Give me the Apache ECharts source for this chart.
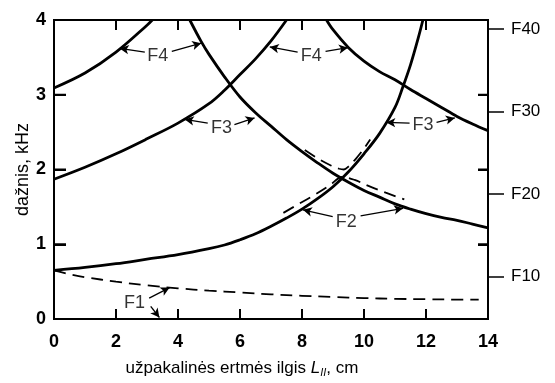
<!DOCTYPE html>
<html>
<head>
<meta charset="utf-8">
<script src="https://cdn.jsdelivr.net/npm/echarts@6/dist/echarts.min.js"></script>
<style>html,body{margin:0;padding:0;background:#fff}#c{width:555px;height:383px}</style>
</head>
<body>
<div id="c"></div>
<script>
// ---- data (x in cm, y in kHz) ----
var xTicks = [0, 2, 4, 6, 8, 10, 12, 14];
var yTicks = [0, 1, 2, 3, 4];
var rightTickValues = [10, 20, 30, 40];

var f1 = [[0,0.65],[0.5,0.60],[1,0.56],[2,0.50],[3,0.45],[4,0.41],[5,0.38],[6,0.355],[7,0.33],[8,0.31],[9,0.295],[10,0.28],[11,0.27],[12,0.265],[13,0.26],[13.7,0.26]];
var risingSteep = [[0,0.65],[1,0.69],[2,0.74],[3,0.80],[4,0.86],[5,0.94],[5.5,0.99],[6,1.06],[6.5,1.14],[7,1.24],[7.5,1.35],[8,1.47],[8.5,1.61],[9,1.77],[9.5,1.97],[10,2.21],[10.5,2.48],[11,2.83],[11.25,3.10],[11.5,3.40],[11.75,3.76],[11.9,4.0]];
var risingF3 = [[0,1.87],[1,2.03],[2,2.21],[3,2.41],[4,2.62],[5,2.88],[5.5,3.06],[6,3.27],[6.5,3.48],[7,3.72],[7.5,4.0]];
var risingF4 = [[0,3.09],[1,3.29],[2,3.57],[3,3.93],[3.17,4.0]];
var fallingA = [[4.38,4.0],[4.75,3.71],[5,3.54],[5.5,3.24],[6,2.97],[6.5,2.76],[7,2.58],[7.5,2.40],[8,2.24],[8.5,2.09],[9,1.95],[9.5,1.83],[10,1.72],[10.5,1.63],[11,1.54],[11.5,1.47],[12,1.41],[12.5,1.36],[13,1.32],[13.5,1.27],[14,1.22]];
var fallingB = [[8.79,4.0],[9,3.87],[9.5,3.63],[10,3.45],[10.5,3.31],[11,3.20],[11.5,3.07],[12,2.95],[12.5,2.83],[13,2.71],[13.5,2.61],[14,2.52]];
var f2DashUpper = [[8.09,2.26],[8.5,2.15],[8.9,2.06],[9.2,2.01],[9.35,2.0],[9.5,2.04],[9.75,2.15],[10,2.28],[10.2,2.4]];
var f2DashLower = [[7.4,1.42],[7.9,1.54],[8.4,1.66],[8.9,1.79],[9.3,1.9],[9.7,1.86],[10.2,1.77],[10.7,1.69],[11.3,1.60]];

// annotation labels: [x, y, text]
var annotLabels = [[3.35,3.52,'F4'],[5.4,2.56,'F3'],[8.3,3.52,'F4'],[11.9,2.59,'F3'],[9.43,1.30,'F2'],[2.6,0.22,'F1']];
// arrows: [fromX, fromY, toX, toY]
var annotArrows = [
  [2.93,3.57,2.12,3.62],[3.8,3.58,4.75,3.69],
  [4.96,2.62,4.22,2.67],[5.82,2.60,6.47,2.69],
  [7.86,3.57,6.96,3.64],[8.76,3.58,9.48,3.63],
  [11.47,2.62,10.72,2.63],[12.34,2.63,12.93,2.69],
  [8.99,1.37,8.03,1.46],[9.89,1.38,11.26,1.48],
  [3.07,0.28,3.73,0.42],
  [3.12,0.17,3.40,0.02]
];

var FONT = '"Liberation Sans", Arial, Helvetica, sans-serif';
var chart = echarts.init(document.getElementById('c'), null, {renderer: 'canvas'});

function solid(data) {
  return {type:'line', data:data, smooth:0.35, symbol:'none', clip:true, silent:true,
    lineStyle:{color:'#000', width:2.8}, z:3};
}
function dashed(data) {
  return {type:'line', data:data, smooth:0.35, symbol:'none', clip:true, silent:true,
    lineStyle:{color:'#000', width:1.8, type:[12,7]}, z:3};
}
function axLine(){ return {show:true, onZero:false, lineStyle:{color:'#000', width:2}}; }
function axTick(len){ return {show:true, inside:true, length:len, lineStyle:{color:'#000', width:2}}; }

var arrowLines = annotArrows.map(function(a){
  return [{coord:[a[0],a[1]]},{coord:[a[2],a[3]]}];
});

var option = {
  animation:false,
  backgroundColor:'#fff',
  textStyle:{fontFamily:FONT, color:'#000'},
  grid:{left:54, right:67, top:20, bottom:56, containLabel:false, show:false},
  xAxis:[{
    type:'value', min:xTicks[0], max:xTicks[xTicks.length-1], interval:2, position:'bottom',
    axisLine:axLine(), axisTick:axTick(10),
    axisLabel:{show:true, margin:14, fontSize:18, fontWeight:'bold', color:'#000', fontFamily:FONT},
    splitLine:{show:false},
    name:'užpakalinės ertmės ilgis {i|L}{s|II}, cm',
    nameLocation:'middle', nameGap:39, nameMoveOverlap:false,
    nameTextStyle:{fontSize:17, color:'#000', fontFamily:FONT, padding:[0,58,0,0],
      rich:{i:{fontSize:17, fontStyle:'italic', fontFamily:FONT},
            s:{fontSize:11, fontStyle:'italic', fontFamily:FONT, padding:[9,0,0,0]}}}
  },{
    type:'value', min:0, max:14, interval:2, position:'top',
    axisLine:axLine(), axisTick:axTick(10),
    axisLabel:{show:false}, splitLine:{show:false}
  }],
  yAxis:[{
    type:'value', min:yTicks[0], max:yTicks[yTicks.length-1], interval:1, position:'left',
    axisLine:axLine(), axisTick:axTick(12),
    axisLabel:{show:true, margin:8, fontSize:18, fontWeight:'bold', color:'#000', fontFamily:FONT},
    splitLine:{show:false},
    name:'dažnis, kHz', nameLocation:'middle', nameGap:22, nameRotate:90, nameMoveOverlap:false,
    nameTextStyle:{fontSize:18, color:'#000', fontFamily:FONT}
  },{
    type:'value', min:0, max:4, interval:1, position:'right',
    axisLine:axLine(), axisTick:axTick(10),
    axisLabel:{show:false}, splitLine:{show:false}
  },{
    type:'value', min:4.876, max:41.09, position:'right',
    axisLine:{show:false, onZero:false},
    axisTick:{show:true, inside:false, length:16, customValues:rightTickValues,
      lineStyle:{color:'#000', width:1.5}},
    axisLabel:{show:true, margin:23, fontSize:17, color:'#000', fontFamily:FONT,
      customValues:rightTickValues, formatter:'F{value}'},
    splitLine:{show:false}
  }],
  series:[
    solid(risingSteep), solid(risingF3), solid(risingF4), solid(fallingA), solid(fallingB),
    dashed(f1), dashed(f2DashUpper), dashed(f2DashLower),
    {
      type:'scatter', data:annotLabels, symbolSize:0, silent:true, z:5,
      label:{show:true, position:'inside', fontSize:18, color:'#000', fontFamily:FONT,
        formatter:function(p){return p.data[2];}},
      markLine:{
        silent:true, animation:false, symbol:['none','arrow'], symbolSize:[7,9],
        label:{show:false},
        lineStyle:{color:'#000', width:1.3, type:'solid'},
        data:arrowLines
      }
    }
  ]
};
chart.setOption(option);

// Frame and inner ticks, positioned through the chart's own scales.
(function(){
  var g = {gridIndex:0};
  var xMin = xTicks[0], xMax = xTicks[xTicks.length-1];
  var yMin = yTicks[0], yMax = yTicks[yTicks.length-1];
  var bl = chart.convertToPixel(g, [xMin, yMin]);
  var tr = chart.convertToPixel(g, [xMax, yMax]);
  var st = {stroke:'#000', lineWidth:2, fill:null};
  var els = [{type:'rect', z:100, silent:true,
    shape:{x:bl[0], y:tr[1], width:tr[0]-bl[0], height:bl[1]-tr[1]},
    style:{stroke:'#000', lineWidth:2, fill:'none'}}];
  xTicks.slice(1, -1).forEach(function(v){
    var p = chart.convertToPixel(g, [v, yMin]);
    els.push({type:'line', z:100, silent:true, shape:{x1:p[0], y1:bl[1], x2:p[0], y2:bl[1]-10}, style:st});
    els.push({type:'line', z:100, silent:true, shape:{x1:p[0], y1:tr[1], x2:p[0], y2:tr[1]+10}, style:st});
  });
  yTicks.slice(1, -1).forEach(function(v){
    var p = chart.convertToPixel(g, [xMin, v]);
    els.push({type:'line', z:100, silent:true, shape:{x1:bl[0], y1:p[1], x2:bl[0]+12, y2:p[1]}, style:st});
    els.push({type:'line', z:100, silent:true, shape:{x1:tr[0], y1:p[1], x2:tr[0]-10, y2:p[1]}, style:st});
  });
  chart.setOption({graphic:{elements:els}});
})();
</script>
</body>
</html>
